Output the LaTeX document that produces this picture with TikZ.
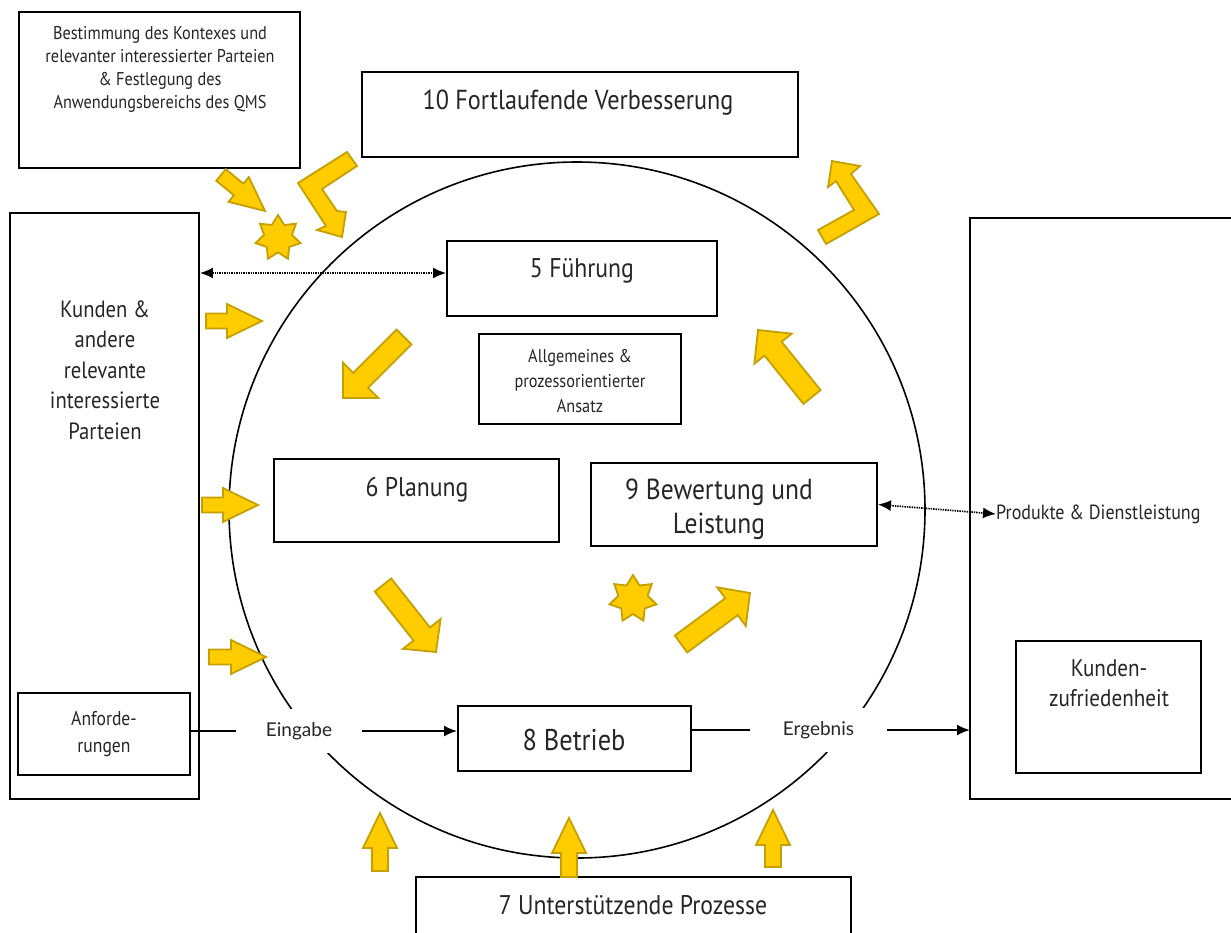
\documentclass[tikz,border=0pt]{standalone}
\usepackage{fontspec}
\setmainfont{PT Sans}[FakeStretch=0.88]
\newfontfamily\latofont{Lato}
\usetikzlibrary{calc,shapes.geometric,arrows.meta}
\definecolor{yfill}{HTML}{FFCC00}
\definecolor{yline}{HTML}{C4A000}
\newcommand\yarrow[5]{% tail, tip, shaft half, head half, head length
  \path ($(#2)!#5!(#1)$) coordinate (yH);
  \draw[yel] ($(#1)!#3!90:(#2)$) -- ($(yH)!#3!-90:(#1)$) -- ($(yH)!#4!-90:(#1)$) -- (#2)
     -- ($(yH)!#4!90:(#1)$) -- ($(yH)!#3!90:(#1)$) -- ($(#1)!#3!-90:(#2)$) -- cycle;}
\newcommand\fs[2]{\fontsize{#1}{#2}\selectfont}
\begin{document}
\begin{tikzpicture}[x=1pt,y=-1pt,
  box/.style={draw=black,line width=1.9pt,fill=white,inner sep=0pt},
  yel/.style={fill=yfill,draw=yline,line width=1.8pt,line join=miter},
  txt/.style={align=center,inner sep=0pt,text=black!85},
  conn/.style={line width=1.9pt},
  dotconn/.style={line width=1.7pt,dash pattern=on 1.4pt off 1pt,{Latex[length=13pt,width=11pt]}-{Latex[length=13pt,width=11pt]}},
  lab/.style={fill=white,inner sep=0pt,text=black!85,font=\latofont\fs{19}{22}}]
\useasboundingbox (0,0) rectangle (1231,932);
% circle
\node[draw,circle,line width=1.6pt,minimum size=696pt,inner sep=0pt] (circ) at (577,510) {};
% boxes
\node[box,minimum width=281pt,minimum height=156pt] (ctx) at (159.5,90) {};
\node[txt,font=\fs{18.5}{23}] (ctxt) at (160,69) {Bestimmung des Kontexes und\\relevanter interessierter Parteien\\\& Festlegung des\\Anwendungsbereichs des QMS};
\node[box,minimum width=436pt,minimum height=85pt] (cip) at (580,114.5) {};
\node[txt,font=\fs{27.5}{30}] (cipt) at (578,103) {10 Fortlaufende Verbesserung};
\node[box,minimum width=189pt,minimum height=586pt] (kun) at (104.5,506) {};
\node[txt,font=\fs{23.5}{30.5}] (kunt) at (105,370) {Kunden \&\\andere\\relevante\\interessierte\\Parteien};
\node[box,minimum width=172pt,minimum height=82pt] (anf) at (104,734) {};
\node[txt,font=\fs{20}{27}] (anft) at (104,734) {Anforde-\\rungen};
\draw[box] (970,218) -- (1245,218) -- (1245,799) -- (970,799) -- cycle;
\coordinate (rbw) at (970,508);
\node[txt,font=\fs{20.5}{24},anchor=west] (prod) at (996,514) {Produkte \& Dienstleistung};
\node[box,minimum width=185pt,minimum height=132pt] (kz) at (1108.5,707) {};
\node[txt,font=\fs{24}{30}] (kzt) at (1109,683) {Kunden-\\zufriedenheit};
\node[box,minimum width=270pt,minimum height=75pt] (fue) at (582,278.5) {};
\node[txt,font=\fs{27}{30}] (fuet) at (582,271) {5 Führung};
\node[box,minimum width=202pt,minimum height=90pt] (allg) at (580,379) {};
\node[txt,font=\fs{18.5}{25}] (allgt) at (580,381) {Allgemeines \&\\prozessorientierter\\Ansatz};
\node[box,minimum width=285pt,minimum height=83pt] (plan) at (416.5,500.5) {};
\node[txt,font=\fs{27}{30}] (plant) at (417,490) {6 Planung};
\node[box,minimum width=286pt,minimum height=83pt] (bew) at (734,504.5) {};
\begin{scope}
\clip (591,463) rectangle (877,545);
\node[txt,font=\fs{29}{34}] (bewt) at (719,509) {9 Bewertung und\\Leistung};
\end{scope}
\node[box,minimum width=233pt,minimum height=65pt] (bet) at (574.5,738.5) {};
\node[txt,font=\fs{30}{32}] (bett) at (574,740) {8 Betrieb};
\node[box,minimum width=435pt,minimum height=70pt] (unt) at (633.5,912) {};
\node[txt,font=\fs{27}{30}] (untt) at (633,905) {7 Unterstützende Prozesse};
% connectors
\coordinate (yf) at (0,273);
\draw[dotconn] (kun.east |- yf) -- (fue.west |- yf);
\draw[dotconn] (bew.east) -- (prod.west);
\node[lab,minimum width=126pt,minimum height=44pt] (ein) at (299,731) {Eingabe};
\node[lab,minimum width=137pt,minimum height=44pt] (erg) at (818.5,730) {Ergebnis};
\draw[conn] (anf.east |- ein) -- (ein.west);
\draw[conn,-{Latex[length=13pt,width=11pt]}] (ein.east) -- (bet.west |- ein);
\draw[conn] (bet.east |- erg) -- (erg.west);
\draw[conn,-{Latex[length=13pt,width=11pt]}] (erg.east) -- (rbw |- erg);
% yellow arrows
\yarrow{202,505}{258,505}{7.5pt}{17pt}{35pt}
\yarrow{206,321}{262,321}{7.5pt}{17pt}{35pt}
\yarrow{209,657}{266,657}{7.5pt}{17pt}{35pt}
\yarrow{380,871}{380,813}{8pt}{17pt}{35pt}
\yarrow{569,877}{569,818}{8pt}{17pt}{35pt}
\yarrow{773,867}{773,810}{8pt}{17pt}{35pt}
\yarrow{221,175}{265,211}{7.5pt}{16pt}{34pt}
\yarrow{404,337}{343,398}{10.5pt}{25pt}{25pt}
\yarrow{383,585}{436,652}{10.5pt}{24pt}{23pt}
\yarrow{681,644}{750,593}{10.5pt}{24pt}{23pt}
\yarrow{812,397}{758,330}{11pt}{24pt}{24pt}
\draw[yel] (347,152) -- (357,166) -- (322,189) -- (337,211) -- (346,212) -- (342,237) -- (317,230) -- (326,226) -- (298,183) -- cycle;
\draw[yel] (832,161) -- (860,166) -- (851,174) -- (879,214) -- (826,244) -- (818,230) -- (854,210) -- (836,181) -- (828,187) -- cycle;
\node[star,star points=7,star point ratio=1.6,minimum size=46pt,inner sep=0pt,yel] (s1) at (278,238) {};
\node[star,star points=7,star point ratio=1.6,minimum size=48pt,inner sep=0pt,yel] (s2) at (633,599) {};
\end{tikzpicture}
\end{document}
